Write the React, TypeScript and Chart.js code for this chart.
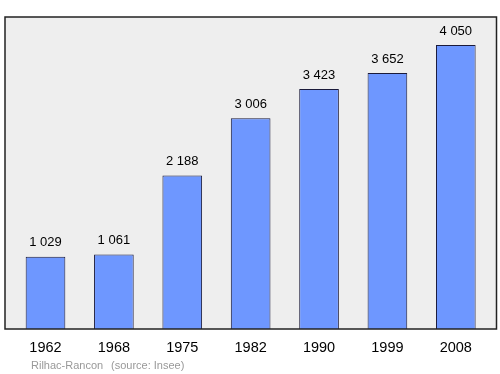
import React, { useEffect, useRef } from "react";
import { Chart, registerables } from "chart.js";
Chart.register(...registerables);

const years = ["1962", "1968", "1975", "1982", "1990", "1999", "2008"];
const population = [1029, 1061, 2188, 3006, 3423, 3652, 4050];
const valueLabels = ["1 029", "1 061", "2 188", "3 006", "3 423", "3 652", "4 050"];
const commune = "Rilhac-Rancon";
const source = "(source: Insee)";

const FONT = '"Liberation Sans", Arial, sans-serif';

const framePlugin = {
  id: "frame",
  beforeDraw(chart: any) {
    const { ctx, chartArea } = chart;
    ctx.save();
    ctx.fillStyle = "#eeeeee";
    const l = chartArea.left - 6.3;
    const r = chartArea.right + 6.5;
    ctx.fillRect(l, chartArea.top, r - l, chartArea.bottom - chartArea.top);
    ctx.restore();
  },
  afterDraw(chart: any) {
    const { ctx, chartArea, scales } = chart;
    const l = chartArea.left - 6.3;
    const r = chartArea.right + 6.5;
    ctx.save();
    ctx.strokeStyle = "#222";
    ctx.lineWidth = 1.5;
    ctx.strokeRect(l, chartArea.top, r - l, chartArea.bottom - chartArea.top);
    const meta = chart.getDatasetMeta(0);
    ctx.fillStyle = "#000";
    ctx.textAlign = "center";
    ctx.textBaseline = "middle";
    ctx.font = `13px ${FONT}`;
    meta.data.forEach((bar: any, i: number) => {
      ctx.fillText(valueLabels[i], bar.x, bar.y - 14);
    });
    ctx.font = `14.5px ${FONT}`;
    years.forEach((y, i) => {
      ctx.fillText(y, scales.x.getPixelForValue(i), chartArea.bottom + 19);
    });
    ctx.fillStyle = "#999";
    ctx.font = `11px ${FONT}`;
    ctx.textAlign = "left";
    ctx.fillText(commune, 31, 366);
    ctx.fillText(source, 111, 366);
    ctx.restore();
  },
};

export default function App() {
  const ref = useRef<HTMLCanvasElement>(null);
  useEffect(() => {
    document.body.style.margin = "0";
    const chart = new Chart(ref.current!, {
      type: "bar",
      data: {
        labels: years,
        datasets: [
          {
            data: population,
            backgroundColor: "#6e97ff",
            borderColor: "#1a1a3a",
            borderWidth: 1,
            barPercentage: 0.58,
            categoryPercentage: 1,
          },
        ],
      },
      options: {
        animation: false,
        responsive: false,
        layout: { padding: { left: 11.3, right: 10, top: 17, bottom: 45 } },
        plugins: { legend: { display: false }, tooltip: { enabled: false } },
        scales: {
          x: { display: false, offset: true },
          y: { display: false, min: 0, max: 4450 },
        },
      },
      plugins: [framePlugin],
    });
    return () => chart.destroy();
  }, []);
  return <canvas ref={ref} width={500} height={374} style={{ display: "block" }} />;
}
